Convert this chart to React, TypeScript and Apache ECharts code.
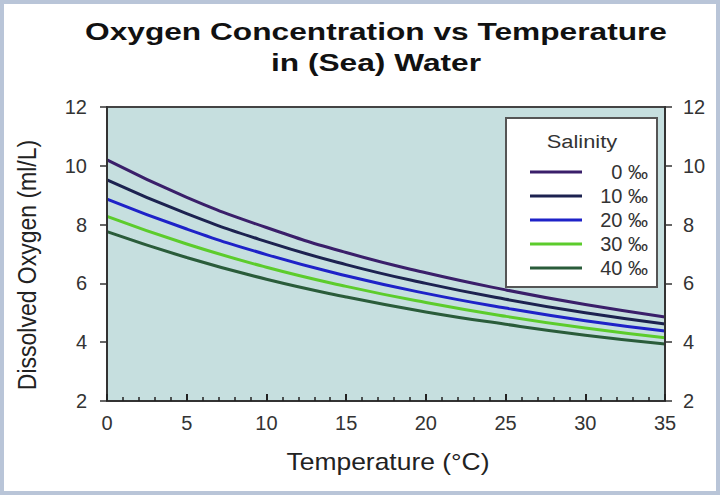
import React, { useEffect, useRef } from 'react';
import * as echarts from 'echarts';

// temperatures (°C) the curves are sampled at
const temperatures = [0, 5, 10, 15, 20, 25, 30, 35];

// dissolved oxygen (ml/L), one array per salinity
const salinity0 = [10.2, 8.93, 7.9, 7.05, 6.36, 5.78, 5.28, 4.86];
const salinity10 = [9.52, 8.37, 7.42, 6.64, 6.0, 5.46, 5.0, 4.62];
const salinity20 = [8.87, 7.85, 6.98, 6.26, 5.66, 5.16, 4.73, 4.38];
const salinity30 = [8.28, 7.34, 6.55, 5.9, 5.35, 4.88, 4.48, 4.15];
const salinity40 = [7.76, 6.88, 6.14, 5.54, 5.03, 4.61, 4.24, 3.94];

const seriesNames = ['0 ‰', '10 ‰', '20 ‰', '30 ‰', '40 ‰'];
const seriesValues = [salinity0, salinity10, salinity20, salinity30, salinity40];
const seriesColors = ['#3a1f6a', '#1c2250', '#1e22c8', '#5ccc2c', '#2a5c3a'];

const xTicks = { min: 0, max: 35, interval: 5 };
const yTicks = { min: 2, max: 12, interval: 2 };

const FONT = 'Liberation Sans, Arial, sans-serif';

const App: React.FC = () => {
  const chartRef = useRef<HTMLDivElement>(null);

  useEffect(() => {
    if (!chartRef.current) return;
    const chart = echarts.init(chartRef.current, null, { renderer: 'svg' });

    const yAxisBase = {
      type: 'value' as const,
      z: 10,
      min: yTicks.min,
      max: yTicks.max,
      interval: yTicks.interval,
      axisLine: { show: true, lineStyle: { color: '#333', width: 2 } },
      axisTick: { show: true, inside: false, length: 7, lineStyle: { color: '#333', width: 1.5 } },
      splitLine: { show: false },
      axisLabel: { fontSize: 20, color: '#333', fontFamily: FONT },
    };

    const option = {
      animation: false,
      backgroundColor: '#ffffff',
      grid: {
        left: 107,
        right: 55,
        top: 107,
        bottom: 94,
        show: true,
        backgroundColor: '#c6dfdf',
        borderColor: '#444',
        borderWidth: 2,
      },
      legend: {
        orient: 'vertical',
        left: 506,
        top: 118,
        selectedMode: false,
        backgroundColor: '#ffffff',
        borderColor: '#555',
        borderWidth: 2,
        borderRadius: 0,
        padding: [44, 9, 9, 24],
        itemGap: 4,
        itemWidth: 52,
        itemHeight: 3,
        icon: 'rect',
        data: seriesNames,
        formatter: (name: string) => `{a|${name}}`,
        textStyle: {
          rich: {
            a: {
              width: 61,
              align: 'right',
              fontSize: 20,
              color: '#333',
              fontFamily: FONT,
            },
          },
        },
      },
      xAxis: {
        type: 'value',
        z: 10,
        min: xTicks.min,
        max: xTicks.max,
        interval: xTicks.interval,
        axisLine: { show: true, onZero: false, lineStyle: { color: '#333', width: 2 } },
        axisTick: { show: true, inside: true, length: 7, lineStyle: { color: '#222', width: 2 } },
        minorTick: { show: true, splitNumber: 5, length: 4, lineStyle: { color: '#222', width: 1.5 } },
        splitLine: { show: false },
        axisLabel: { fontSize: 20, color: '#333', fontFamily: FONT, margin: 12 },
      },
      yAxis: [
        { ...yAxisBase, position: 'left', axisLabel: { ...yAxisBase.axisLabel, margin: 20 } },
        { ...yAxisBase, position: 'right', axisLabel: { ...yAxisBase.axisLabel, margin: 18 } },
      ],
      series: seriesNames.map((name, i) => ({
        name,
        type: 'line',
        smooth: true,
        symbol: 'none',
        color: seriesColors[i],
        lineStyle: { width: 3, color: seriesColors[i] },
        data: temperatures.map((t, j) => [t, seriesValues[i][j]]),
      })),
      graphic: [
        {
          type: 'rect',
          z: 100,
          shape: { x: 0, y: 0, width: 720, height: 495 },
          style: { fill: 'none', stroke: '#b9c5d8', lineWidth: 8 },
        },
        {
          type: 'text',
          z: 100,
          x: 376,
          y: 32,
          scaleX: 1.32,
          style: {
            text: 'Oxygen Concentration vs Temperature',
            fontSize: 24,
            fontWeight: 'bold',
            fontFamily: FONT,
            fill: '#111',
            align: 'center',
            verticalAlign: 'middle',
          },
        },
        {
          type: 'text',
          z: 100,
          x: 376,
          y: 63,
          scaleX: 1.32,
          style: {
            text: 'in (Sea) Water',
            fontSize: 24,
            fontWeight: 'bold',
            fontFamily: FONT,
            fill: '#111',
            align: 'center',
            verticalAlign: 'middle',
          },
        },
        {
          type: 'text',
          z: 100,
          x: 582,
          y: 141,
          scaleX: 1.15,
          style: {
            text: 'Salinity',
            fontSize: 19,
            fontFamily: FONT,
            fill: '#333',
            align: 'center',
            verticalAlign: 'middle',
          },
        },
        {
          type: 'text',
          z: 100,
          x: 388,
          y: 462,
          scaleX: 1.15,
          style: {
            text: 'Temperature (°C)',
            fontSize: 23,
            fontFamily: FONT,
            fill: '#222',
            align: 'center',
            verticalAlign: 'middle',
          },
        },
        {
          type: 'text',
          z: 100,
          x: 27,
          y: 265,
          rotation: Math.PI / 2,
          scaleY: 1.1,
          style: {
            text: 'Dissolved Oxygen (ml/L)',
            fontSize: 23,
            fontFamily: FONT,
            fill: '#222',
            align: 'center',
            verticalAlign: 'middle',
          },
        },
      ],
    };

    chart.setOption(option as any);

    return () => {
      chart.dispose();
    };
  }, []);

  return (
    <div
      ref={chartRef}
      style={{ position: 'absolute', left: 0, top: 0, width: 720, height: 495 }}
    />
  );
};

export default App;
